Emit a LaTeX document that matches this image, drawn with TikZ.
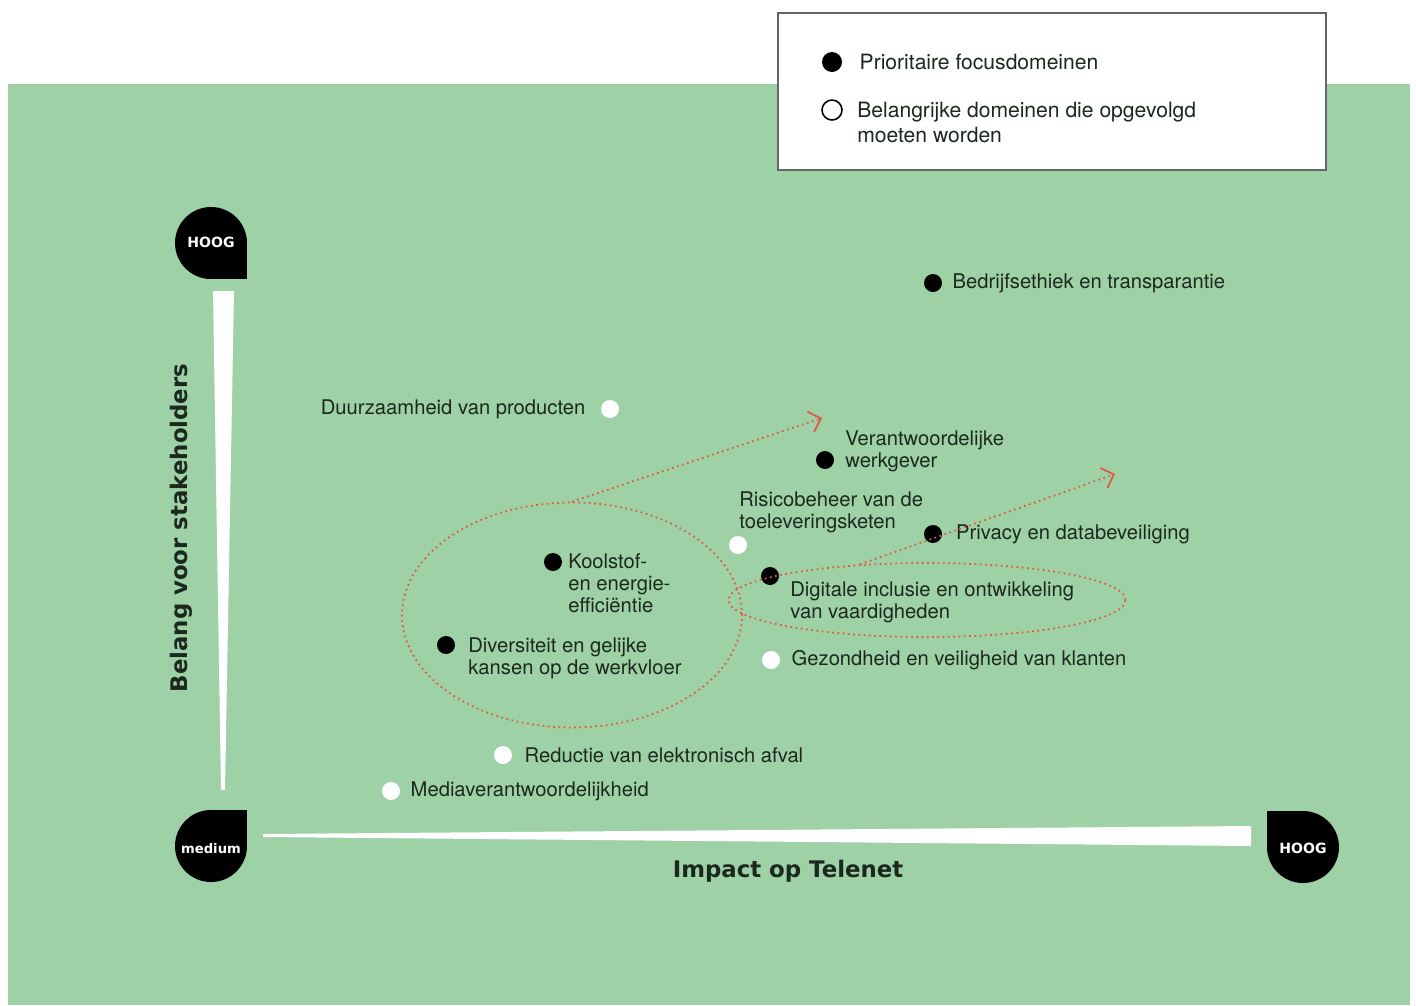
\documentclass[tikz,border=0pt]{standalone}
\usepackage{fontspec}
\setmainfont{TeX Gyre Heros}
\newfontfamily\zwaar{DejaVu Sans}
\usetikzlibrary{arrows,arrows.meta}
\usetikzlibrary{shapes.geometric}
\usetikzlibrary{positioning}
\definecolor{veld}{RGB}{158,210,166}
\definecolor{rood}{RGB}{222,88,70}
\definecolor{tekst}{RGB}{28,40,30}

\begin{document}
\begin{tikzpicture}[x=0.02cm, y=-0.02cm, >={Straight Barb[length=6pt,width=12pt]}]
			\tikzstyle{prio} = [circle, fill=black, minimum size=0.36cm, inner sep=0pt]
			\tikzstyle{volg} = [circle, fill=white, minimum size=0.36cm, inner sep=0pt]
			\tikzstyle{lbl} = [text=tekst, font=\fontsize{11.5}{12.5}\selectfont, align=left, inner sep=0pt]
			\tikzstyle{as} = [text=tekst, font=\zwaar\bfseries\fontsize{13}{15}\selectfont]
			\tikzstyle{druppel} = [text=white, font=\zwaar\bfseries\fontsize{8}{9}\selectfont]
			\tikzstyle{spoor} = [draw=rood, line width=1pt, dotted]

			\useasboundingbox (0,0) rectangle (1416,1005);
			\fill[veld] (8,84) rectangle (1410,1005);

			% legende
			\node[draw=black!60, line width=0.8pt, fill=white, minimum width=10.96cm, minimum height=3.14cm, inner sep=0pt] (legende) at (1052,91.5) {};
			\node[prio, minimum size=0.4cm] (lprio) at (832,62) {};
			\node[lbl, font=\fontsize{12}{14}\selectfont, right=0.34cm of lprio] (lprioT) {Prioritaire focusdomeinen};
			\node[circle, draw=black, line width=0.9pt, minimum size=0.4cm, inner sep=0pt] (lvolg) at (832,110) {};
			\node[lbl, font=\fontsize{12}{14}\selectfont, anchor=north west] (lvolgT) at (857,102) {Belangrijke domeinen die opgevolgd\\moeten worden};

			% assen
			\fill[white] (213,291) -- (234,291) -- (225,790) -- (221,790) -- cycle;
			\fill[white] (263,834) -- (1251,826) -- (1251,846) -- (263,837) -- cycle;
			\fill (211,243) circle[radius=36];
			\fill (211,243) rectangle (247,279);
			\fill (211,846) circle[radius=36];
			\fill (211,810) rectangle (247,846);
			\fill (1303,847) circle[radius=36];
			\fill (1267,811) rectangle (1303,847);
			\node[druppel] (hoogY) at (211,242) {HOOG};
			\node[druppel, font=\zwaar\bfseries\fontsize{7.5}{9}\selectfont] (medium) at (211,849) {medium};
			\node[druppel] (hoogX) at (1303,848) {HOOG};
			\node[as, rotate=90] (belang) at (181,528) {Belang voor stakeholders};
			\node[as] (impact) at (788,871) {Impact op Telenet};

			% domeinen
			\node[prio] (ethiek) at (933,283) {};
			\node[prio] (werkgever) at (825,460) {};
			\node[prio] (privacy) at (933,534) {};
			\node[prio] (koolstof) at (553,562) {};
			\node[prio] (diversiteit) at (446,645) {};
			\node[prio] (digitaal) at (770,576) {};
			\node[volg] (duurzaam) at (610,409) {};
			\node[volg] (risico) at (738,545) {};
			\node[volg] (gezondheid) at (771,660) {};
			\node[volg] (afval) at (503,755) {};
			\node[volg] (media) at (391,791) {};

			\node[lbl, right=0.2cm of ethiek] (ethiekT) {Bedrijfsethiek en transparantie};
			\node[lbl, right=0.27cm of privacy] (privacyT) {Privacy en databeveiliging};
			\node[lbl, right=0.22cm of gezondheid] (gezondheidT) {Gezondheid en veiligheid van klanten};
			\node[lbl, right=0.24cm of afval] (afvalT) {Reductie van elektronisch afval};
			\node[lbl, right=0.2cm of media] (mediaT) {Mediaverantwoordelijkheid};
			\node[lbl, left=0.3cm of duurzaam] (duurzaamT) {Duurzaamheid van producten};
			\node[lbl, anchor=north west] (werkgeverT) at (845,430) {Verantwoordelijke\\werkgever};
			\node[lbl, anchor=north west] (risicoT) at (739,491) {Risicobeheer van de\\toeleveringsketen};
			\node[lbl, anchor=north west] (koolstofT) at (568,553) {Koolstof-\\en energie-\\effici\"entie};
			\node[lbl, anchor=north west] (diversiteitT) at (468,637) {Diversiteit en gelijke\\kansen op de werkvloer};
			\node[lbl, anchor=north west] (digitaalT) at (790,581) {Digitale inclusie en ontwikkeling\\van vaardigheden};

			% verbanden
			\node[spoor, ellipse, minimum width=6.8cm, minimum height=4.5cm, inner sep=0pt] (cluster) at (572,615) {};
			\node[spoor, ellipse, minimum width=7.94cm, minimum height=1.48cm, inner sep=0pt] (inclusie) at (927,600) {};
			\coordinate (pijl1) at (822,418);
			\coordinate (pijl2) at (1115,474);
			\draw[spoor, ->] (cluster.north) -- (pijl1);
			\draw[spoor, ->] (inclusie.152) -- (pijl2);

\end{tikzpicture}
\end{document}
